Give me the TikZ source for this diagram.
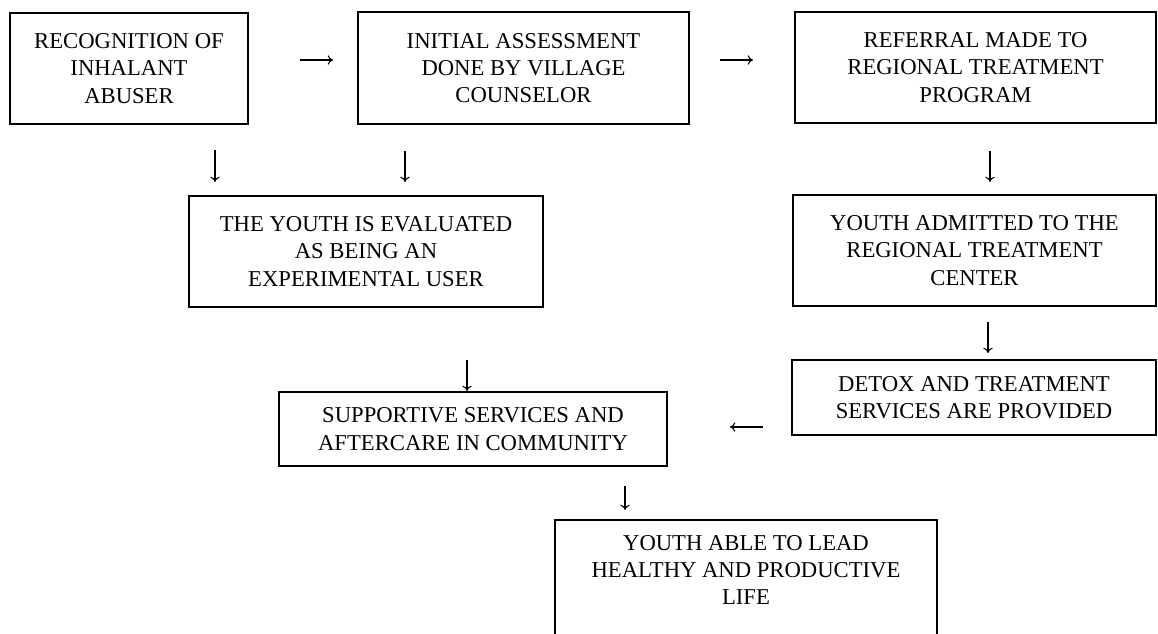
\documentclass[tikz,border=0pt]{standalone}
\usepackage{fontspec}
\setmainfont{Liberation Serif}
\usetikzlibrary{arrows.meta}
\begin{document}
\begin{tikzpicture}[x=0.75pt,y=-0.75pt,
  box/.style={draw=black,line width=1.4pt,align=center,inner sep=0pt,
              font=\fontsize{17}{20.5}\selectfont},
  plaintext/.style={align=center,inner sep=0pt,font=\fontsize{17}{20.5}\selectfont},
  arr/.style={line width=0.8pt,-{To[length=4pt,width=7pt]}}]
\useasboundingbox (0,0) rectangle (1158,633);
\fill[white] (0,0) rectangle (1158,633);
\clip (0,0) rectangle (1158,633);

\node[box,minimum width=178.5pt,minimum height=83.25pt] (b1) at (129,68.5)
  {RECOGNITION OF\\INHALANT\\ABUSER};
\node[box,minimum width=248.25pt,minimum height=84pt] (b2) at (523.5,68)
  {INITIAL ASSESSMENT\\DONE BY VILLAGE\\COUNSELOR};
\node[box,minimum width=270.75pt,minimum height=83.25pt] (b3) at (975.5,67.5)
  {REFERRAL MADE TO\\REGIONAL TREATMENT\\PROGRAM};
\node[box,minimum width=265.5pt,minimum height=83.25pt] (b4) at (366,251.5)
  {THE YOUTH IS EVALUATED\\AS BEING AN\\EXPERIMENTAL USER};
\node[box,minimum width=272.25pt,minimum height=83.25pt] (b5) at (974.5,250.5)
  {YOUTH ADMITTED TO THE\\REGIONAL TREATMENT\\CENTER};
\node[box,minimum width=273pt,minimum height=56.25pt] (b6) at (974,397.5)
  {DETOX AND TREATMENT\\SERVICES ARE PROVIDED};
\node[box,minimum width=291pt,minimum height=55.5pt] (b7) at (473,429)
  {SUPPORTIVE SERVICES AND\\AFTERCARE IN COMMUNITY};
\node[box,minimum width=286.5pt,minimum height=105pt] (b8) at (746,590) {};
\node[plaintext] (b8t) at (746,570)
  {YOUTH ABLE TO LEAD\\HEALTHY AND PRODUCTIVE\\LIFE};

% arrow end points
\coordinate (a1s) at (300,60);  \coordinate (a1e) at (333,60);
\coordinate (a2s) at (720,60);  \coordinate (a2e) at (753,60);
\coordinate (a3s) at (215,150); \coordinate (a3e) at (215,182);
\coordinate (a4s) at (405,151); \coordinate (a4e) at (405,182);
\coordinate (a5s) at (990,151); \coordinate (a5e) at (990,182);
\coordinate (a6s) at (988,322); \coordinate (a6e) at (988,353);
\coordinate (a7s) at (467,360); \coordinate (a7e) at (467,391);
\coordinate (a8s) at (763,427); \coordinate (a8e) at (730,427);
\coordinate (a9s) at (625,486); \coordinate (a9e) at (625,510);

\draw[arr] (a1s) -- (a1e);
\draw[arr] (a2s) -- (a2e);
\draw[arr] (a3s) -- (a3e);
\draw[arr] (a4s) -- (a4e);
\draw[arr] (a5s) -- (a5e);
\draw[arr] (a6s) -- (a6e);
\draw[arr] (a7s) -- (a7e);
\draw[arr] (a8s) -- (a8e);
\draw[arr] (a9s) -- (a9e);
\end{tikzpicture}
\end{document}
